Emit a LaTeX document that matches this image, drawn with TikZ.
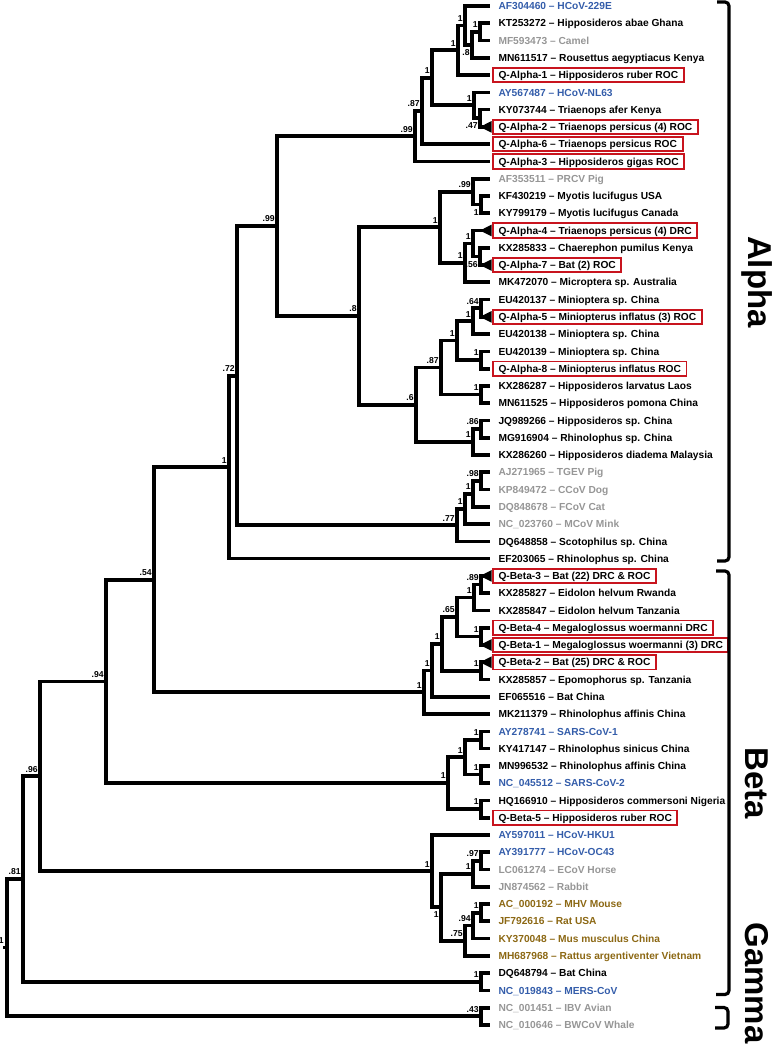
\documentclass[tikz,border=0pt]{standalone}
\usepackage{fontspec}
\setmainfont{Liberation Sans}
\definecolor{qblue}{RGB}{52,93,170}
\definecolor{qgrey}{RGB}{150,150,150}
\definecolor{qolive}{RGB}{140,104,20}
\definecolor{qred}{RGB}{200,20,30}
\begin{document}
\begin{tikzpicture}[x=1pt,y=-1pt,
  branch/.style={line width=3.7pt, line join=miter},
  supa/.style={font=\fontsize{8.6}{9}\selectfont\bfseries, inner sep=0pt, anchor=base east, xshift=-2.2pt, yshift=4.2pt},
  supb/.style={font=\fontsize{8.6}{9}\selectfont\bfseries, inner sep=0pt, anchor=north east, xshift=-2.2pt, yshift=-4.5pt},
  lbl/.style={anchor=west, xshift=3pt, font=\fontsize{10.2}{12}\selectfont\bfseries, inner xsep=5.5pt, inner ysep=0pt, text height=7.3pt, text depth=0pt, minimum height=14.4pt, outer sep=0pt},
  boxed/.style={draw=qred, line width=1.9pt},
  bracket/.style={line width=3.2pt, rounded corners=4pt},
  grp/.style={font=\fontsize{33}{38}\selectfont\bfseries, inner sep=0pt, rotate=-90}
]
\useasboundingbox (0,0) rectangle (775,1050);
% leaf tips
\foreach \i in {1,...,60} \coordinate (L\i) at (490,{6+(\i-1)*17.27});
% internal nodes
\coordinate (kt) at (480,31.9);
\coordinate (a8) at (472,44.9);
\coordinate (a1) at (465,25.4);
\coordinate (ab) at (458,50.3);
\coordinate (a47) at (480,118.3);
\coordinate (anl) at (474,105.3);
\coordinate (ac) at (432,77.8);
\coordinate (a87) at (422,111.0);
\coordinate (a99) at (415,136.2);
\coordinate (ae) at (481,204.6);
\coordinate (a99c) at (473,191.7);
\coordinate (a56) at (480,256.4);
\coordinate (af) at (473,243.5);
\coordinate (ad) at (465,262.9);
\coordinate (acc) at (440,227.3);
\coordinate (a64) at (481,308.3);
\coordinate (ai) at (473,321.2);
\coordinate (aj) at (481,360.1);
\coordinate (ag) at (457,340.6);
\coordinate (ah) at (481,394.6);
\coordinate (a87b) at (441,367.6);
\coordinate (a86) at (481,429.1);
\coordinate (ak) at (473,442.1);
\coordinate (a6) at (416,404.9);
\coordinate (a8b) at (359,316.1);
\coordinate (a99b) at (277,226.1);
\coordinate (a98) at (481,481.0);
\coordinate (am) at (473,493.9);
\coordinate (al) at (465,509.0);
\coordinate (a77) at (457,525.2);
\coordinate (a72) at (237,375.7);
\coordinate (aa) at (229,467.2);
\coordinate (b89) at (481,584.5);
\coordinate (bn) at (474,597.5);
\coordinate (bo) at (481,636.4);
\coordinate (b65) at (457,617.0);
\coordinate (bp) at (481,670.9);
\coordinate (bq) at (442,644.0);
\coordinate (bR) at (432,670.4);
\coordinate (bs) at (424,692.3);
\coordinate (n54) at (154,579.8);
\coordinate (bu) at (481,740.0);
\coordinate (bv) at (481,774.5);
\coordinate (bw) at (465,757.2);
\coordinate (bx) at (481,809.0);
\coordinate (bt) at (448,783.1);
\coordinate (n94) at (106,681.5);
\coordinate (b97) at (481,860.9);
\coordinate (bz) at (473,873.8);
\coordinate (baa) at (481,912.7);
\coordinate (b94) at (473,925.6);
\coordinate (b75) at (465,940.7);
\coordinate (bbb) at (441,907.3);
\coordinate (by) at (432,871.2);
\coordinate (n96) at (40,776.3);
\coordinate (mers) at (481,981.8);
\coordinate (n81) at (23,879.0);
\coordinate (g43) at (481,1016.3);
\coordinate (root) at (7,947.6);
\coordinate (rootstub) at (3,947.6);
% branches
\foreach \p/\c in {kt/L2,kt/L3,a8/kt,a8/L4,a1/L1,a1/a8,ab/a1,ab/L5,a47/L7,a47/L8,anl/L6,anl/a47,
  ac/ab,ac/anl,a87/ac,a87/L9,a99/a87,a99/L10,ae/L12,ae/L13,a99c/L11,a99c/ae,a56/L15,a56/L16,
  af/L14,af/a56,ad/af,ad/L17,acc/a99c,acc/ad,a64/L18,a64/L19,ai/a64,ai/L20,aj/L21,aj/L22,
  ag/ai,ag/aj,ah/L23,ah/L24,a87b/ag,a87b/ah,a86/L25,a86/L26,ak/a86,ak/L27,a6/a87b,a6/ak,
  a8b/acc,a8b/a6,a99b/a99,a99b/a8b,a98/L28,a98/L29,am/a98,am/L30,al/am,al/L31,a77/al,a77/L32,
  a72/a99b,a72/a77,aa/a72,aa/L33,b89/L34,b89/L35,bn/b89,bn/L36,bo/L37,bo/L38,b65/bn,b65/bo,
  bp/L39,bp/L40,bq/b65,bq/bp,bR/bq,bR/L41,bs/bR,bs/L42,n54/aa,n54/bs,bu/L43,bu/L44,bv/L45,bv/L46,
  bw/bu,bw/bv,bx/L47,bx/L48,bt/bw,bt/bx,n94/n54,n94/bt,b97/L50,b97/L51,bz/b97,bz/L52,
  baa/L53,baa/L54,b94/baa,b94/L55,b75/b94,b75/L56,bbb/bz,bbb/b75,by/L49,by/bbb,n96/n94,n96/by,
  mers/L57,mers/L58,n81/n96,n81/mers,g43/L59,g43/L60,root/n81,root/g43}
  \draw[branch] (\p) |- (\c);
\draw[branch] (rootstub) -- (root);
% collapsed clades
\foreach \t in {L8,L14,L16,L19,L34,L38,L39}
  \fill ([xshift=-10pt]\t) -- ([xshift=1.5pt,yshift=5.8pt]\t) -- ([xshift=1.5pt,yshift=-5.8pt]\t) -- cycle;
% support values
\node[supa] (s1) at (kt) {1};
\node[supb] (s2) at (a8) {.8};
\node[supa] (s3) at (a1) {1};
\node[supa] (s4) at (ab) {1};
\node[supb] (s5) at (a47) {.47};
\node[supa] (s6) at (anl) {1};
\node[supa] (s7) at (ac) {1};
\node[supa] (s8) at (a87) {.87};
\node[supa] (s9) at (a99) {.99};
\node[supb] (s10) at (ae) {1};
\node[supa] (s11) at (a99c) {.99};
\node[supb] (s12) at (a56) {.56};
\node[supa] (s13) at (af) {1};
\node[supa] (s14) at (ad) {1};
\node[supa] (s15) at (acc) {1};
\node[supa] (s16) at (a64) {.64};
\node[supa] (s17) at (ai) {1};
\node[supa] (s18) at (aj) {1};
\node[supa] (s19) at (ag) {1};
\node[supa] (s20) at (ah) {1};
\node[supa] (s21) at (a87b) {.87};
\node[supa] (s22) at (a86) {.86};
\node[supa] (s23) at (ak) {1};
\node[supa] (s24) at (a6) {.6};
\node[supa] (s25) at (a8b) {.8};
\node[supa] (s26) at (a99b) {.99};
\node[supa] (s27) at (a98) {.98};
\node[supa] (s28) at (am) {1};
\node[supa] (s29) at (al) {1};
\node[supa] (s30) at (a77) {.77};
\node[supa] (s31) at (a72) {.72};
\node[supa] (s32) at (aa) {1};
\node[supa] (s33) at (b89) {.89};
\node[supa] (s34) at (bn) {1};
\node[supa] (s35) at (bo) {1};
\node[supa] (s36) at (b65) {.65};
\node[supa] (s37) at (bp) {1};
\node[supa] (s38) at (bq) {1};
\node[supa] (s39) at (bR) {1};
\node[supa] (s40) at (bs) {1};
\node[supa] (s41) at (n54) {.54};
\node[supa] (s42) at (bu) {1};
\node[supa] (s43) at (bv) {1};
\node[supa] (s44) at (bw) {1};
\node[supa] (s45) at (bx) {1};
\node[supa] (s46) at (bt) {1};
\node[supa] (s47) at (n94) {.94};
\node[supa] (s48) at (b97) {.97};
\node[supa] (s49) at (bz) {1};
\node[supa] (s50) at (baa) {1};
\node[supa] (s51) at (b94) {.94};
\node[supa] (s52) at (b75) {.75};
\node[supb] (s53) at (bbb) {1};
\node[supa] (s54) at (by) {1};
\node[supa] (s55) at (n96) {.96};
\node[supa] (s56) at (mers) {1};
\node[supa] (s57) at (n81) {.81};
\node[supa] (s58) at (g43) {.43};
\node[supa,xshift=-1pt] (s59) at (root) {1};
% leaf labels
\node[lbl,text=qblue] (t1) at (L1) {AF304460 – HCoV-229E};
\node[lbl] (t2) at (L2) {KT253272 – Hipposideros abae Ghana};
\node[lbl,text=qgrey] (t3) at (L3) {MF593473 – Camel};
\node[lbl] (t4) at (L4) {MN611517 – Rousettus aegyptiacus Kenya};
\node[lbl,boxed] (t5) at (L5) {Q-Alpha-1 – Hipposideros ruber ROC};
\node[lbl,text=qblue] (t6) at (L6) {AY567487 – HCoV-NL63};
\node[lbl] (t7) at (L7) {KY073744 – Triaenops afer Kenya};
\node[lbl,boxed] (t8) at (L8) {Q-Alpha-2 – Triaenops persicus (4) ROC};
\node[lbl,boxed] (t9) at (L9) {Q-Alpha-6 – Triaenops persicus ROC};
\node[lbl,boxed] (t10) at (L10) {Q-Alpha-3 – Hipposideros gigas ROC};
\node[lbl,text=qgrey] (t11) at (L11) {AF353511 – PRCV Pig};
\node[lbl] (t12) at (L12) {KF430219 – Myotis lucifugus USA};
\node[lbl] (t13) at (L13) {KY799179 – Myotis lucifugus Canada};
\node[lbl,boxed] (t14) at (L14) {Q-Alpha-4 – Triaenops persicus (4) DRC};
\node[lbl] (t15) at (L15) {KX285833 – Chaerephon pumilus Kenya};
\node[lbl,boxed] (t16) at (L16) {Q-Alpha-7 – Bat (2) ROC};
\node[lbl] (t17) at (L17) {MK472070 – Microptera sp. Australia};
\node[lbl] (t18) at (L18) {EU420137 – Minioptera sp. China};
\node[lbl,boxed] (t19) at (L19) {Q-Alpha-5 – Miniopterus inflatus (3) ROC};
\node[lbl] (t20) at (L20) {EU420138 – Minioptera sp. China};
\node[lbl] (t21) at (L21) {EU420139 – Minioptera sp. China};
\node[lbl,boxed] (t22) at (L22) {Q-Alpha-8 – Miniopterus inflatus ROC};
\node[lbl] (t23) at (L23) {KX286287 – Hipposideros larvatus Laos};
\node[lbl] (t24) at (L24) {MN611525 – Hipposideros pomona China};
\node[lbl] (t25) at (L25) {JQ989266 – Hipposideros sp. China};
\node[lbl] (t26) at (L26) {MG916904 – Rhinolophus sp. China};
\node[lbl] (t27) at (L27) {KX286260 – Hipposideros diadema Malaysia};
\node[lbl,text=qgrey] (t28) at (L28) {AJ271965 – TGEV Pig};
\node[lbl,text=qgrey] (t29) at (L29) {KP849472 – CCoV Dog};
\node[lbl,text=qgrey] (t30) at (L30) {DQ848678 – FCoV Cat};
\node[lbl,text=qgrey] (t31) at (L31) {NC\_023760 – MCoV Mink};
\node[lbl] (t32) at (L32) {DQ648858 – Scotophilus sp. China};
\node[lbl] (t33) at (L33) {EF203065 – Rhinolophus sp. China};
\node[lbl,boxed] (t34) at (L34) {Q-Beta-3 – Bat (22) DRC \& ROC};
\node[lbl] (t35) at (L35) {KX285827 – Eidolon helvum Rwanda};
\node[lbl] (t36) at (L36) {KX285847 – Eidolon helvum Tanzania};
\node[lbl,boxed] (t37) at (L37) {Q-Beta-4 – Megaloglossus woermanni DRC};
\node[lbl,boxed] (t38) at (L38) {Q-Beta-1 – Megaloglossus woermanni (3) DRC};
\node[lbl,boxed] (t39) at (L39) {Q-Beta-2 – Bat (25) DRC \& ROC};
\node[lbl] (t40) at (L40) {KX285857 – Epomophorus sp. Tanzania};
\node[lbl] (t41) at (L41) {EF065516 – Bat China};
\node[lbl] (t42) at (L42) {MK211379 – Rhinolophus affinis China};
\node[lbl,text=qblue] (t43) at (L43) {AY278741 – SARS-CoV-1};
\node[lbl] (t44) at (L44) {KY417147 – Rhinolophus sinicus China};
\node[lbl] (t45) at (L45) {MN996532 – Rhinolophus affinis China};
\node[lbl,text=qblue] (t46) at (L46) {NC\_045512 – SARS-CoV-2};
\node[lbl] (t47) at (L47) {HQ166910 – Hipposideros commersoni Nigeria};
\node[lbl,boxed] (t48) at (L48) {Q-Beta-5 – Hipposideros ruber ROC};
\node[lbl,text=qblue] (t49) at (L49) {AY597011 – HCoV-HKU1};
\node[lbl,text=qblue] (t50) at (L50) {AY391777 – HCoV-OC43};
\node[lbl,text=qgrey] (t51) at (L51) {LC061274 – ECoV Horse};
\node[lbl,text=qgrey] (t52) at (L52) {JN874562 – Rabbit};
\node[lbl,text=qolive] (t53) at (L53) {AC\_000192 – MHV Mouse};
\node[lbl,text=qolive] (t54) at (L54) {JF792616 – Rat USA};
\node[lbl,text=qolive] (t55) at (L55) {KY370048 – Mus musculus China};
\node[lbl,text=qolive] (t56) at (L56) {MH687968 – Rattus argentiventer Vietnam};
\node[lbl] (t57) at (L57) {DQ648794 – Bat China};
\node[lbl,text=qblue] (t58) at (L58) {NC\_019843 – MERS-CoV};
\node[lbl,text=qgrey] (t59) at (L59) {NC\_001451 – IBV Avian};
\node[lbl,text=qgrey] (t60) at (L60) {NC\_010646 – BWCoV Whale};
% group brackets
\draw[bracket] (717,2) -- (729,2) -- (729,561) -- (717,561);
\draw[bracket] (716,571) -- (729,571) -- (729,994.5) -- (716,994.5);
\draw[bracket] (715,1007.5) -- (728,1007.5) -- (728,1028) -- (715,1028);
\node[grp] (alpha) at (757,282) {Alpha};
\node[grp] (beta) at (757,783) {Beta};
\node[grp] (gamma) at (757,983) {Gamma};
\end{tikzpicture}
\end{document}
